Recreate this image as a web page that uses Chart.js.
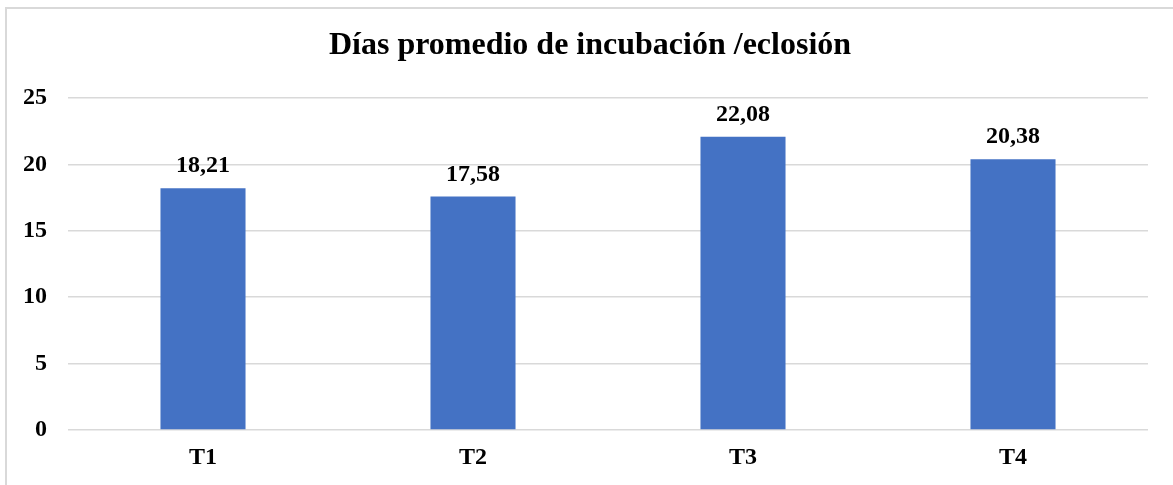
<!DOCTYPE html>
<html>
<head>
<meta charset="utf-8">
<script src="https://cdn.jsdelivr.net/npm/chart.js@4.4.1/dist/chart.umd.min.js"></script>
<style>
  html, body { margin: 0; padding: 0; background: #fff; }
  #wrap { position: relative; width: 1173px; height: 485px; overflow: hidden; }
  #frame { position: absolute; left: 5px; top: 7px; width: 1200px; height: 500px;
           border-left: 2px solid #d9d9d9; border-top: 2px solid #d9d9d9; box-sizing: border-box; }
  canvas { position: absolute; left: 0; top: 0; }
</style>
</head>
<body>
<div id="wrap">
  <div id="frame"></div>
  <canvas id="c" width="1173" height="485"></canvas>
</div>
<script>
const categories = ['T1', 'T2', 'T3', 'T4'];
const values = [18.21, 17.58, 22.08, 20.38];
const yTicks = [0, 5, 10, 15, 20, 25];
const titleText = 'Días promedio de incubación /eclosión';

const FONT = "'Liberation Serif', 'Times New Roman', serif";

const dataLabels = {
  id: 'dataLabels',
  afterDatasetsDraw(chart) {
    const ctx = chart.ctx;
    const meta = chart.getDatasetMeta(0);
    ctx.save();
    ctx.font = "bold 24px " + FONT;
    ctx.fillStyle = '#000';
    ctx.textAlign = 'center';
    ctx.textBaseline = 'alphabetic';
    meta.data.forEach((bar, i) => {
      const txt = values[i].toFixed(2).replace('.', ',');
      ctx.fillText(txt, bar.x, bar.y - 16);
    });
    ctx.restore();
  }
};

new Chart(document.getElementById('c'), {
  type: 'bar',
  data: {
    labels: categories,
    datasets: [{
      data: values,
      backgroundColor: '#4472C4',
      borderWidth: 0,
      barPercentage: 0.315,
      categoryPercentage: 1
    }]
  },
  options: {
    responsive: false,
    animation: false,
    layout: { padding: { left: 7, right: 0, top: 8, bottom: 0 } },
    plugins: {
      legend: { display: false },
      tooltip: { enabled: false },
      title: {
        display: true,
        text: titleText,
        color: '#000',
        font: { family: FONT, size: 32, weight: 'bold', lineHeight: 1.2 },
        padding: { top: 19, bottom: 32.6 }
      }
    },
    scales: {
      x: {
        grid: { display: false, drawTicks: false },
        border: { display: false },
        ticks: { color: '#000', font: { family: FONT, size: 24, weight: 'bold' }, padding: 13.5 },
        afterFit(s) { s.height = 55; }
      },
      y: {
        min: 0, max: 25,
        afterBuildTicks(s) { s.ticks = yTicks.map(v => ({ value: v })); },
        grid: { color: '#d9d9d9', lineWidth: 1.5, drawTicks: false },
        border: { display: false },
        ticks: { color: '#000', font: { family: FONT, size: 24, weight: 'bold' }, padding: 21 },
        afterFit(s) { s.width = 61; }
      },
      yRight: {
        position: 'right',
        min: 0, max: 25,
        grid: { display: false, drawTicks: false },
        border: { display: false },
        ticks: { display: false },
        afterFit(s) { s.width = 25; }
      }
    }
  },
  plugins: [dataLabels]
});
</script>
</body>
</html>
